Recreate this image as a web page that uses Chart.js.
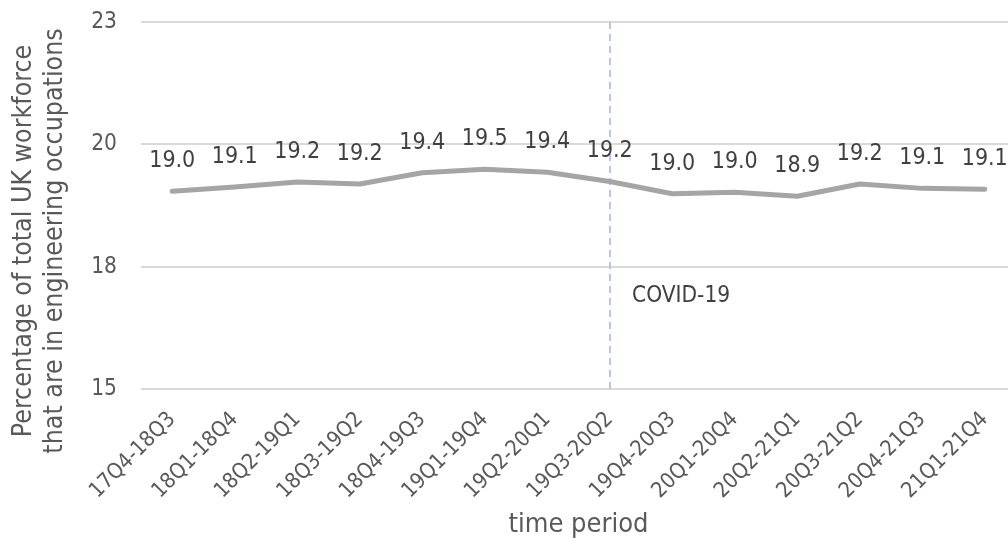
<!DOCTYPE html>
<html>
<head>
<meta charset="utf-8">
<script src="https://cdn.jsdelivr.net/npm/chart.js"></script>
<style>
  html, body { margin: 0; padding: 0; background: #fff; overflow: hidden; }
  #wrap { width: 1008px; height: 547px; overflow: hidden; }
  #box { width: 1016px; height: 547px; }
</style>
</head>
<body>
<div id="wrap"><div id="box"><canvas id="chart"></canvas></div></div>
<script>
// Rolling 4-quarter periods
const periods = ['17Q4-18Q3', '18Q1-18Q4', '18Q2-19Q1', '18Q3-19Q2', '18Q4-19Q3', '19Q1-19Q4', '19Q2-20Q1',
                 '19Q3-20Q2', '19Q4-20Q3', '20Q1-20Q4', '20Q2-21Q1', '20Q3-21Q2', '20Q4-21Q3', '21Q1-21Q4'];
// % of UK workforce in engineering occupations
const engShare = [19.04, 19.13, 19.23, 19.19, 19.42, 19.49, 19.43, 19.24, 18.99, 19.02, 18.94, 19.19, 19.1, 19.08];
const yTicks = [15, 17.5, 20, 22.5];
const yTitle = ['Percentage of total UK workforce', 'that are in engineering occupations'];
const covidIndex = 7;          // category where the marker line sits
const covidLabel = 'COVID-19';
const covidLabelValue = 16.9;  // y value where the marker text sits

const FONT = '"DejaVu Sans Condensed", "DejaVu Sans", sans-serif';

const markerPlugin = {
    id: 'covidMarker',
    beforeDatasetsDraw(chart) {
        const { ctx, chartArea, scales } = chart;
        const x = Math.round(scales.x.getPixelForValue(covidIndex));
        ctx.save();
        ctx.strokeStyle = '#b4c7e7';
        ctx.lineWidth = 2;
        ctx.setLineDash([7, 5]);
        ctx.beginPath();
        ctx.moveTo(x, chartArea.top);
        ctx.lineTo(x, chartArea.bottom);
        ctx.stroke();
        ctx.setLineDash([]);
        ctx.fillStyle = '#404040';
        ctx.font = '22.5px ' + FONT;
        ctx.textAlign = 'left';
        ctx.textBaseline = 'middle';
        ctx.fillText(covidLabel, x + 22, scales.y.getPixelForValue(covidLabelValue));
        ctx.restore();
    }
};

const labelPlugin = {
    id: 'valueLabels',
    afterDatasetsDraw(chart) {
        const { ctx } = chart;
        const meta = chart.getDatasetMeta(0);
        ctx.save();
        ctx.fillStyle = '#404040';
        ctx.font = '23px ' + FONT;
        ctx.textAlign = 'center';
        ctx.textBaseline = 'middle';
        meta.data.forEach((pt, i) => {
            ctx.fillText(engShare[i].toFixed(1), pt.x, pt.y - 30);
        });
        ctx.restore();
    }
};

// y title drawn by hand: Excel centres it lower than the plot area
const yTitlePlugin = {
    id: 'yTitle',
    afterDraw(chart) {
        const { ctx } = chart;
        ctx.save();
        ctx.fillStyle = '#595959';
        ctx.font = '26.5px ' + FONT;
        ctx.textAlign = 'center';
        ctx.textBaseline = 'alphabetic';
        ctx.translate(0, 241);
        ctx.rotate(-Math.PI / 2);
        ctx.fillText(yTitle[0], 0, 30.5);
        ctx.fillText(yTitle[1], 0, 62);
        ctx.restore();
    }
};

new Chart(document.getElementById('chart'), {
    type: 'line',
    data: {
        labels: periods,
        datasets: [{
            data: engShare,
            borderColor: '#a5a5a5',
            borderWidth: 5,
            borderCapStyle: 'round',
            borderJoinStyle: 'round',
            pointRadius: 0,
            tension: 0,
            fill: false
        }]
    },
    options: {
        responsive: true,
        maintainAspectRatio: false,
        animation: false,
        layout: { padding: { top: 22, left: 6, right: 0, bottom: 6 } },
        plugins: { legend: { display: false }, tooltip: { enabled: false } },
        scales: {
            x: {
                offset: true,
                grid: { display: false, drawTicks: false },
                border: { display: false },
                ticks: {
                    color: '#595959',
                    font: { family: FONT, size: 21.5 },
                    minRotation: 45,
                    maxRotation: 45,
                    autoSkip: false,
                    padding: 18
                },
                title: {
                    display: true,
                    text: 'time period',
                    color: '#595959',
                    font: { family: FONT, size: 27 },
                    padding: { top: 0, bottom: 0 }
                },
                afterFit(scale) {
                    scale.height = 152;
                    scale.paddingLeft = 0;
                    scale.paddingRight = 0;
                }
            },
            y: {
                min: 15,
                max: 22.5,
                afterBuildTicks(scale) { scale.ticks = yTicks.map(v => ({ value: v })); },
                grid: { color: '#d9d9d9', lineWidth: 2, drawTicks: false },
                border: { display: false },
                ticks: {
                    color: '#595959',
                    font: { family: FONT, size: 22.5 },
                    padding: 24,
                    callback: v => Math.round(v)
                },
                title: { display: false },
                afterFit(scale) {
                    scale.width = 135;
                    scale.paddingTop = 0;
                    scale.paddingBottom = 0;
                }
            }
        }
    },
    plugins: [markerPlugin, labelPlugin, yTitlePlugin]
});
</script>
</body>
</html>
